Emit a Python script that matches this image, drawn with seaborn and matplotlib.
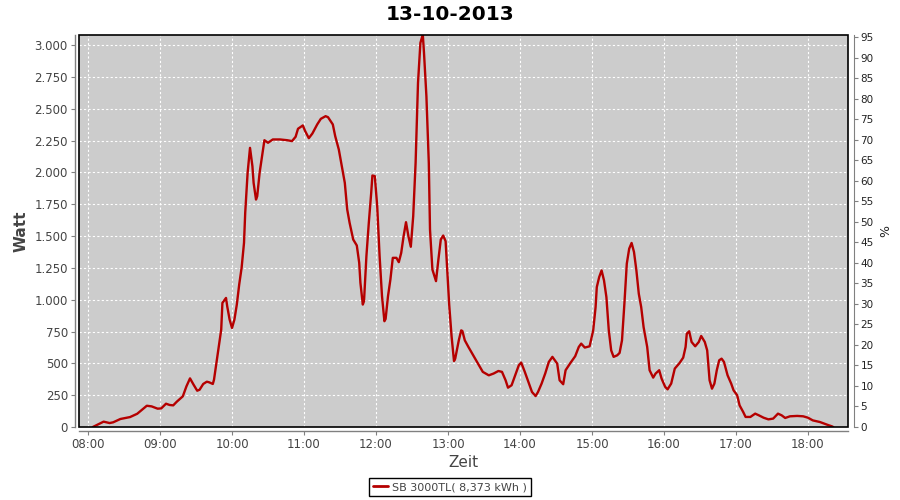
import numpy as np
import pandas as pd
import matplotlib
matplotlib.use("Agg")
import matplotlib.pyplot as plt
import matplotlib.dates as mdates
from matplotlib.lines import Line2D
from matplotlib.patches import Rectangle
from matplotlib.ticker import FuncFormatter, MultipleLocator
import seaborn as sns

# ── DATA ─────────────────────────────────────────────────────────────────────
DAY   = "2013-10-13"
TITLE = "13-10-2013"
LEGEND_LABEL = "SB 3000TL( 8,373 kWh )"

TIMES = [
    "08:04", "08:13", "08:18", "08:21", "08:27", "08:35", "08:41", "08:49", "08:53", "08:58",
    "09:01", "09:05", "09:08", "09:11", "09:14", "09:19", "09:22", "09:25", "09:28", "09:31",
    "09:33", "09:36", "09:39", "09:41", "09:44", "09:45", "09:47", "09:49", "09:51", "09:52",
    "09:55", "09:56", "09:58", "10:00", "10:02", "10:04", "10:06", "10:08", "10:10", "10:11",
    "10:13", "10:15", "10:17", "10:18", "10:20", "10:21", "10:23", "10:25", "10:27", "10:30",
    "10:34", "10:40", "10:46", "10:50", "10:53", "10:55", "10:59", "11:01", "11:04", "11:07",
    "11:11", "11:14", "11:18", "11:20", "11:24", "11:26", "11:29", "11:32", "11:34", "11:36",
    "11:38", "11:41", "11:44", "11:46", "11:47", "11:49", "11:50", "11:52", "11:54", "11:56",
    "11:57", "11:59", "12:01", "12:03", "12:05", "12:07", "12:08", "12:10", "12:12", "12:14",
    "12:17", "12:19", "12:21", "12:23", "12:25", "12:27", "12:29", "12:31", "12:33", "12:35",
    "12:37", "12:39", "12:40", "12:42", "12:44", "12:45", "12:47", "12:50", "12:52", "12:54",
    "12:56", "12:58", "12:59", "13:01", "13:03", "13:05", "13:06", "13:09", "13:11", "13:12",
    "13:14", "13:17", "13:21", "13:25", "13:29", "13:34", "13:38", "13:42", "13:45", "13:48",
    "13:50", "13:53", "13:56", "13:59", "14:01", "14:04", "14:07", "14:10", "14:13", "14:15",
    "14:18", "14:21", "14:24", "14:27", "14:31", "14:33", "14:36", "14:38", "14:42", "14:46",
    "14:49", "14:51", "14:54", "14:58", "15:01", "15:03", "15:04", "15:06", "15:08", "15:10",
    "15:12", "15:14", "15:16", "15:18", "15:21", "15:23", "15:25", "15:27", "15:29", "15:31",
    "15:33", "15:35", "15:37", "15:39", "15:41", "15:43", "15:46", "15:48", "15:51", "15:53",
    "15:56", "15:58", "16:01", "16:03", "16:06", "16:09", "16:13", "16:16", "16:18", "16:19",
    "16:21", "16:23", "16:26", "16:29", "16:31", "16:34", "16:36", "16:38", "16:40", "16:42",
    "16:44", "16:46", "16:48", "16:50", "16:53", "16:56", "16:58", "17:01", "17:03", "17:06",
    "17:08", "17:12", "17:16", "17:19", "17:23", "17:27", "17:31", "17:35", "17:38", "17:41",
    "17:45", "17:51", "17:56", "18:00", "18:04", "18:10", "18:16", "18:20", "18:21",
]

WATT = [
    0, 42, 31, 37, 63, 78, 104, 167, 162, 144,
    146, 183, 173, 170, 199, 241, 319, 382, 332, 285,
    293, 338, 356, 351, 338, 372, 503, 634, 765, 975,
    1014, 948, 844, 778, 844, 962, 1120, 1251, 1447, 1683,
    1997, 2193, 2049, 1918, 1787, 1813, 1997, 2128, 2253, 2233,
    2259, 2259, 2253, 2246, 2280, 2343, 2369, 2324, 2269, 2306,
    2377, 2421, 2442, 2434, 2377, 2285, 2180, 2023, 1918, 1709,
    1604, 1473, 1426, 1290, 1133, 962, 988, 1342, 1604, 1840,
    1976, 1971, 1735, 1342, 1028, 831, 849, 1028, 1159, 1329,
    1329, 1295, 1368, 1499, 1609, 1499, 1416, 1656, 2075, 2704,
    3018, 3083, 2939, 2599, 2075, 1551, 1237, 1146, 1316, 1473,
    1504, 1460, 1290, 960, 710, 518, 537, 681, 759, 754,
    681, 629, 563, 498, 433, 406, 420, 440, 433, 367,
    309, 328, 406, 485, 506, 433, 354, 275, 243, 275,
    341, 420, 511, 551, 498, 367, 336, 446, 503, 556,
    629, 655, 624, 634, 759, 942, 1099, 1178, 1230, 1152,
    1021, 759, 602, 551, 563, 582, 681, 969, 1283, 1401,
    1446, 1375, 1230, 1047, 942, 785, 629, 446, 388, 420,
    446, 380, 315, 296, 341, 459, 503, 545, 629, 733,
    752, 668, 634, 668, 715, 668, 602, 367, 301, 341,
    446, 524, 537, 511, 406, 341, 288, 249, 170, 118,
    79, 79, 105, 92, 73, 60, 66, 105, 92, 71,
    84, 87, 84, 73, 52, 39, 18, 5, 0,
]

assert len(TIMES) == len(WATT)

W_TICKS   = np.arange(0, 3001, 250)
PCT_TICKS = np.arange(0, 96, 5)

# ── STYLE ────────────────────────────────────────────────────────────────────
BG        = "#cccccc"
LINE_COL  = "#b50000"
AXIS_COL  = "#808080"
TEXT_COL  = "#444444"

sns.set_style("white")
plt.rcParams["font.family"] = ["DejaVu Sans"]

df = pd.DataFrame({
    "Zeit": pd.to_datetime([f"{DAY} {t}" for t in TIMES]),
    "Watt": WATT,
})

fig = plt.figure(figsize=(9, 5), dpi=100)
ax = fig.add_axes([0.0878, 0.146, 0.8544, 0.7846])
ax.set_facecolor(BG)

sns.lineplot(data=df, x="Zeit", y="Watt", ax=ax, color=LINE_COL,
             linewidth=1.7, estimator=None, legend=False)

x0 = pd.Timestamp(f"{DAY} 07:52:30")
x1 = pd.Timestamp(f"{DAY} 18:33:20")
ax.set_xlim(x0, x1)
ax.set_ylim(0, 3082)

ax.xaxis.set_major_locator(mdates.HourLocator())
ax.xaxis.set_major_formatter(mdates.DateFormatter("%H:%M"))
ax.set_yticks(W_TICKS)
ax.yaxis.set_major_formatter(FuncFormatter(lambda v, p: f"{v:,.0f}".replace(",", ".")))

ax.grid(True, color="white", linestyle=(0, (2, 2)), linewidth=0.8)
ax.set_axisbelow(True)

# axis lines offset from the black plot outline
for side in ["left", "bottom"]:
    ax.spines[side].set_position(("outward", 3))
    ax.spines[side].set_color(AXIS_COL)
    ax.spines[side].set_linewidth(1.0)
for side in ["top", "right"]:
    ax.spines[side].set_visible(False)
ax.add_patch(Rectangle((0, 0), 1, 1, transform=ax.transAxes, fill=False,
                       edgecolor="black", linewidth=1.2, zorder=5, clip_on=False))

ax.tick_params(axis="both", direction="out", length=3, width=0.8, color=AXIS_COL,
               labelsize=8.5, labelcolor=TEXT_COL, pad=2)
ax.tick_params(axis="both", bottom=True, left=True)

ax.set_xlabel("Zeit", fontsize=11, color=TEXT_COL, labelpad=3)
ax.set_ylabel("Watt", fontsize=11, fontweight="bold", color=TEXT_COL, labelpad=4)
fig.text(0.5, 0.972, TITLE, ha="center", va="center", fontsize=14.5,
         fontweight="bold", color="black")

# right-hand percentage axis
ax2 = ax.twinx()
ax2.set_ylim(0, 95.6)
ax2.set_yticks(PCT_TICKS)
ax2.yaxis.set_major_locator(MultipleLocator(5))
for side in ["left", "top", "bottom"]:
    ax2.spines[side].set_visible(False)
ax2.spines["right"].set_position(("outward", 4))
ax2.spines["right"].set_color(AXIS_COL)
ax2.tick_params(axis="y", direction="out", length=3, width=0.8, color=AXIS_COL,
                labelsize=7.5, labelcolor="#222222", pad=2)
ax2.set_ylabel("%", fontsize=9, color="#222222", labelpad=4)
ax2.grid(False)

handle = Line2D([], [], color=LINE_COL, linewidth=2)
fig.legend([handle], [LEGEND_LABEL], loc="center", bbox_to_anchor=(0.5, 0.026),
           frameon=True, fancybox=False, edgecolor="black", framealpha=1,
           fontsize=8, handlelength=1.3, handletextpad=0.4,
           borderpad=0.35, labelcolor=TEXT_COL)

fig.savefig("out.png", dpi=100)
